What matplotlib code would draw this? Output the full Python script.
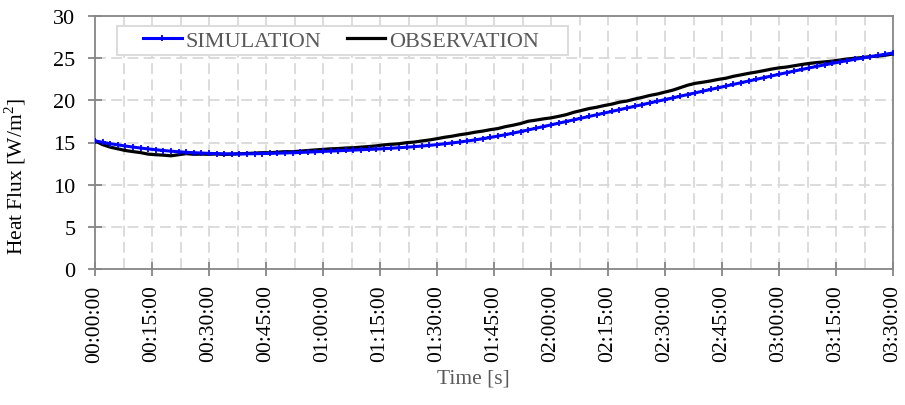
import matplotlib
matplotlib.use("Agg")
import matplotlib.pyplot as plt
from matplotlib.patches import Rectangle
import numpy as np

plt.rcParams['font.family'] = ['Liberation Serif', 'DejaVu Serif']
plt.rcParams['mathtext.fontset'] = 'custom'
plt.rcParams['mathtext.rm'] = 'Liberation Serif'

# Elapsed time in minutes (2-minute sampling)
time_min = list(range(0, 212, 2))

# Simulated heat flux [W/m2]
simulation = [
    15.20, 15.02, 14.86, 14.72, 14.58, 14.46, 14.34, 14.24, 14.14, 14.05,
    13.97, 13.90, 13.84, 13.79, 13.75, 13.71, 13.68, 13.66, 13.65, 13.65,
    13.66, 13.67, 13.69, 13.71, 13.73, 13.76, 13.79, 13.82, 13.86, 13.90,
    13.94, 13.98, 14.02, 14.06, 14.10, 14.14, 14.18, 14.22, 14.27, 14.32,
    14.38, 14.44, 14.51, 14.58, 14.66, 14.75, 14.85, 14.95, 15.06, 15.18,
    15.31, 15.45, 15.60, 15.76, 15.93, 16.11, 16.30, 16.49, 16.69, 16.89,
    17.09, 17.29, 17.49, 17.69, 17.89, 18.09, 18.29, 18.49, 18.69, 18.89,
    19.09, 19.29, 19.49, 19.69, 19.89, 20.09, 20.29, 20.49, 20.69, 20.89,
    21.09, 21.29, 21.49, 21.69, 21.89, 22.09, 22.29, 22.49, 22.69, 22.89,
    23.09, 23.28, 23.47, 23.66, 23.85, 24.03, 24.21, 24.38, 24.55, 24.71,
    24.87, 25.02, 25.17, 25.32, 25.47, 25.62,
]

# Measured heat flux [W/m2]
observation = [
    15.20, 14.75, 14.45, 14.25, 14.05, 13.92, 13.80, 13.62, 13.55, 13.50,
    13.42, 13.55, 13.68, 13.60, 13.62, 13.60, 13.64, 13.58, 13.62, 13.66,
    13.70, 13.74, 13.80, 13.78, 13.85, 13.92, 13.90, 13.98, 14.05, 14.12,
    14.18, 14.25, 14.28, 14.35, 14.38, 14.45, 14.52, 14.60, 14.72, 14.78,
    14.85, 14.98, 15.05, 15.18, 15.30, 15.45, 15.62, 15.75, 15.92, 16.05,
    16.22, 16.35, 16.52, 16.65, 16.88, 17.05, 17.25, 17.52, 17.65, 17.80,
    17.92, 18.10, 18.30, 18.58, 18.80, 19.02, 19.18, 19.38, 19.55, 19.78,
    19.92, 20.15, 20.35, 20.58, 20.75, 20.98, 21.20, 21.50, 21.80, 22.02,
    22.15, 22.30, 22.48, 22.62, 22.85, 23.02, 23.20, 23.35, 23.52, 23.70,
    23.85, 23.95, 24.10, 24.25, 24.38, 24.48, 24.56, 24.65, 24.78, 24.90,
    25.00, 25.08, 25.18, 25.25, 25.35, 25.50,
]

tick_minutes = list(range(0, 211, 15))
tick_labels = ["00:00:00", "00:15:00", "00:30:00", "00:45:00", "01:00:00",
               "01:15:00", "01:30:00", "01:45:00", "02:00:00", "02:15:00",
               "02:30:00", "02:45:00", "03:00:00", "03:15:00", "03:30:00"]
y_ticks = [0, 5, 10, 15, 20, 25, 30]

W, H = 905, 406
fig = plt.figure(figsize=(W / 100, H / 100), dpi=100)
ax = fig.add_axes([95 / W, 1 - 270 / H, 798 / W, 253 / H])

grid_kw = dict(color='#d9d9d9', linewidth=1.3, linestyle=(0, (6, 3)), zorder=0)
for m in np.arange(7.5, 210, 7.5):
    ax.axvline(m, **grid_kw)
for v in y_ticks[1:-1]:
    ax.axhline(v, **grid_kw)

ax.plot(time_min, observation, color='black', linewidth=2.3,
        label='OBSERVATION', zorder=3)
ax.plot(time_min, simulation, color='#0000ff', linewidth=2.2,
        marker='+', markersize=4, markeredgewidth=1.3,
        label='SIMULATION', zorder=4)

ax.set_xlim(0, 210)
ax.set_ylim(0, 30)
ax.set_xticks(tick_minutes)
ax.set_xticklabels(tick_labels, rotation=90, fontsize=15.5)
ax.set_yticks(y_ticks)
ax.set_yticklabels([str(v) for v in y_ticks], fontsize=16)

for s in ax.spines.values():
    s.set_color('#868686')
    s.set_linewidth(1.3)
ax.tick_params(axis='both', direction='inout', length=10, width=1.3,
               color='#868686', labelcolor='black')
ax.tick_params(axis='x', pad=6)
ax.tick_params(axis='y', pad=9)

ax.set_xlabel('Time [s]', fontsize=15.5, color='#595959')
ax.xaxis.set_label_coords(0.474, -0.392)
ax.set_ylabel('Heat Flux [W/m$^{2}$]', fontsize=15.5, color='black')
ax.yaxis.set_label_coords(-0.084, 0.37)

# Legend: framed box spanning the upper left part of the plot area
fig.add_artist(Rectangle((117 / W, 1 - 56 / H), 451 / W, 29 / H,
                         transform=fig.transFigure, facecolor='white',
                         edgecolor='#d9d9d9', linewidth=1.3, zorder=5))
handles, labels = ax.get_legend_handles_labels()
order = [1, 0]
leg = fig.legend([handles[i] for i in order], [labels[i] for i in order],
                 ncol=2, loc='center left',
                 bbox_to_anchor=(143 / W, 1 - 41.5 / H),
                 bbox_transform=fig.transFigure,
                 fontsize=16, frameon=False, numpoints=1,
                 handlelength=1.75, handletextpad=0.15, columnspacing=1.15,
                 borderpad=0, borderaxespad=0, labelcolor='#595959')
leg.set_zorder(6)

fig.savefig('out.png', dpi=100)
